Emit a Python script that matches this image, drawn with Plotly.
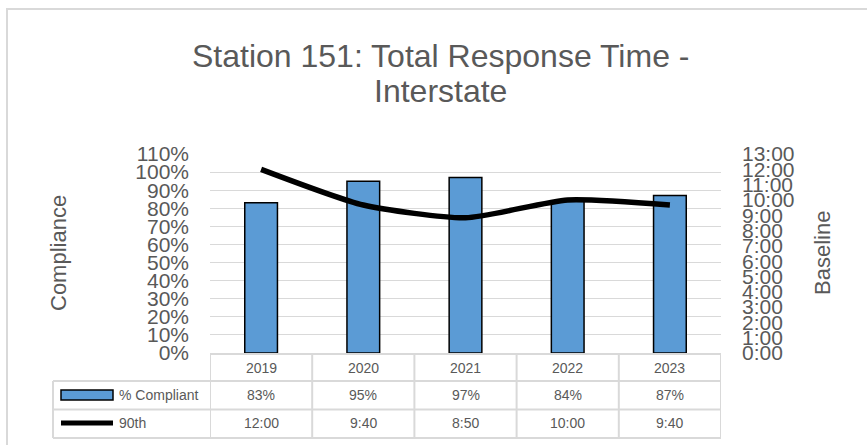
import plotly.graph_objects as go

# ---- data ----
years = ["2019", "2020", "2021", "2022", "2023"]
pct_compliant = [0.83, 0.95, 0.97, 0.84, 0.87]
pct_labels = ["83%", "95%", "97%", "84%", "87%"]
p90_minutes = [12.0, 9 + 40 / 60, 8 + 50 / 60, 10.0, 9 + 40 / 60]
p90_labels = ["12:00", "9:40", "8:50", "10:00", "9:40"]
right_tick_vals = list(range(0, 14))
right_tick_text = [f"{m}:00" for m in right_tick_vals]
title_lines = ["Station 151: Total Response Time -", "Interstate"]
series_names = ["% Compliant", "90th"]

# ---- style / layout ----
W, H = 867, 445
L, R, T, B = 210, 146, 154, 92
FONT = "Liberation Sans, Arial, sans-serif"
GREY = "#595959"
GRID = "#d9d9d9"
BLUE = "#5b9bd5"

plot_w = W - L - R
plot_h = H - T - B


def py(p):  # pixel y -> paper y
    return (H - B - p) / plot_h


def px(p):  # pixel x -> paper x
    return (p - L) / plot_w


fig = go.Figure()
fig.add_trace(go.Bar(
    x=years, y=pct_compliant, name=series_names[0],
    marker=dict(color=BLUE, line=dict(color="black", width=1.5)),
    width=0.32, yaxis="y",
))
fig.add_trace(go.Scatter(
    x=years, y=p90_minutes, name=series_names[1], mode="lines",
    line=dict(color="black", width=5.5, shape="spline", smoothing=0.6),
    yaxis="y2",
))

shapes = []
n = len(years)
# outer chart border
shapes.append(dict(type="rect", xref="paper", yref="paper",
                   x0=px(7), x1=px(W + 20), y0=py(9), y1=py(H + 20),
                   line=dict(color=GRID, width=2), fillcolor="rgba(0,0,0,0)", layer="below"))
# table: vertical lines at category boundaries (header + rows)
for i in range(n + 1):
    shapes.append(dict(type="line", xref="x", yref="paper",
                       x0=i - 0.5, x1=i - 0.5, y0=py(354), y1=py(438),
                       line=dict(color=GRID, width=2)))
# table left edge for series rows
shapes.append(dict(type="line", xref="paper", yref="paper",
                   x0=px(53), x1=px(53), y0=py(381), y1=py(438),
                   line=dict(color=GRID, width=2)))
# header top (axis line)
shapes.append(dict(type="line", xref="x", yref="paper",
                   x0=-0.5, x1=n - 0.5, y0=py(354), y1=py(354),
                   line=dict(color=GRID, width=2)))
for yy in (381, 409.5, 438):
    shapes.append(dict(type="line", xref="paper", yref="paper",
                       x0=px(53), x1=px(721), y0=py(yy), y1=py(yy),
                       line=dict(color=GRID, width=2)))
# legend keys
shapes.append(dict(type="rect", xref="paper", yref="paper",
                   x0=px(61), x1=px(113), y0=py(390), y1=py(400),
                   fillcolor=BLUE, line=dict(color="black", width=1.5)))
shapes.append(dict(type="line", xref="paper", yref="paper",
                   x0=px(61), x1=px(113), y0=py(423), y1=py(423),
                   line=dict(color="black", width=5)))

ann = []
for i, t in enumerate(title_lines):
    ann.append(dict(text=t, xref="paper", yref="paper", x=px(440), y=py(56 + 35 * i),
                    showarrow=False, xanchor="center", yanchor="middle",
                    font=dict(family=FONT, size=32, color=GREY)))
# axis titles
ann.append(dict(text="Compliance", xref="paper", yref="paper", x=px(58), y=py(253),
                textangle=-90, showarrow=False, xanchor="center", yanchor="middle",
                font=dict(family=FONT, size=22, color=GREY)))
ann.append(dict(text="Baseline", xref="paper", yref="paper", x=px(822), y=py(253),
                textangle=-90, showarrow=False, xanchor="center", yanchor="middle",
                font=dict(family=FONT, size=22, color=GREY)))
# table cells (x given as category index)
for i in range(n):
    for txt, yy in ((years[i], 367.5), (pct_labels[i], 395), (p90_labels[i], 423)):
        ann.append(dict(text=txt, xref="x", yref="paper", x=i, y=py(yy),
                        showarrow=False, xanchor="center", yanchor="middle",
                        font=dict(family=FONT, size=14, color=GREY)))
for name, yy in zip(series_names, (395, 423)):
    ann.append(dict(text=name, xref="paper", yref="paper", x=px(117), y=py(yy),
                    xanchor="left", yanchor="middle", showarrow=False,
                    font=dict(family=FONT, size=14, color=GREY)))

fig.update_layout(
    width=W, height=H, margin=dict(l=L, r=R, t=T, b=B, autoexpand=False),
    paper_bgcolor="white", plot_bgcolor="white", showlegend=False,
    xaxis=dict(type="category", range=[-0.5, n - 0.5], showticklabels=False,
               showgrid=False, zeroline=False, showline=False, ticks=""),
    yaxis=dict(range=[0, 1.1], dtick=0.1, tickformat=".0%", showgrid=True,
               gridcolor=GRID, gridwidth=1, zeroline=False, showline=False,
               ticks="", ticklabelstandoff=20,
               tickfont=dict(family=FONT, size=21, color=GREY)),
    yaxis2=dict(range=[0, 13], overlaying="y", side="right", tickvals=right_tick_vals,
                ticktext=right_tick_text, showgrid=False, zeroline=False,
                showline=False, ticks="", ticklabelstandoff=20,
                tickfont=dict(family=FONT, size=21, color=GREY)),
    shapes=shapes, annotations=ann,
)

fig.write_html("out.html", config={"displayModeBar": False},
               post_script="document.body.style.margin='0';")
